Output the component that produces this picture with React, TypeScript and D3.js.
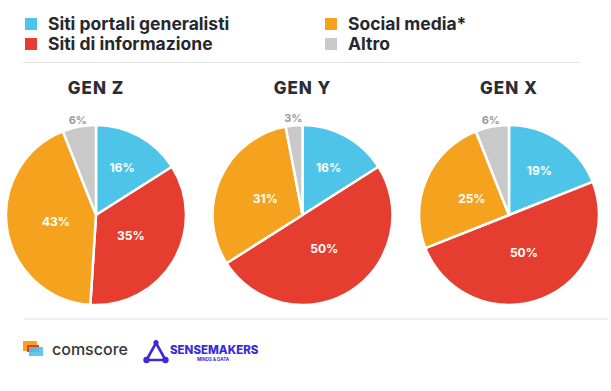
import React from "react";
import * as d3 from "d3";

// legend categories, in slice order (clockwise from 12 o'clock)
const categories = ["Siti portali generalisti", "Siti di informazione", "Social media*", "Altro"];
const generations = ["GEN Z", "GEN Y", "GEN X"];
const genZ = [16, 35, 43, 6];
const genY = [16, 50, 31, 3];
const genX = [19, 50, 25, 6];
const seriesValues = [genZ, genY, genX];

const colors = ["#4FC4E9", "#E53E30", "#F5A31F", "#C9C9C9"];
const FONT = "Inter, 'Open Sans', sans-serif";

const width = 611;
const height = 391;
const radius = 90;

export default function App() {
    const color = d3.scaleOrdinal<string, string>().domain(categories).range(colors);
    const cx = d3.scalePoint<string>().domain(generations).range([96, 509]);

    const pie = d3.pie<number>().sort(null).value(d => d);
    const arc = d3.arc<d3.PieArcDatum<number>>().innerRadius(0).outerRadius(radius);
    const labelArc = (r: number) => d3.arc<d3.PieArcDatum<number>>().innerRadius(r).outerRadius(r);

    return (
        <div style={{ position: "fixed", left: 0, top: 0 }}>
            <svg width={width} height={height} style={{ display: "block", background: "#fff" }}>
                {/* legend */}
                {categories.map((c, i) => {
                    const col = Math.floor(i / 2);
                    const row = i % 2;
                    const x = col === 0 ? 25 : 325;
                    const y = 18 + row * 20;
                    return (
                        <g key={c}>
                            <rect x={x} y={y} width={12} height={12} fill={color(c)} />
                            <text x={x + 23} y={y + 11.5} fontFamily={FONT} fontWeight={700}
                                fontSize={17.5} fill="#26282e">{c}</text>
                        </g>
                    );
                })}
                <line x1={23} x2={580} y1={62.5} y2={62.5} stroke="#e2e2e2" strokeWidth={1.2} />

                {/* pies */}
                {generations.map((g, gi) => {
                    const arcs = pie(seriesValues[gi]);
                    const x = cx(g) as number;
                    const y = 215;
                    return (
                        <g key={g}>
                            <text x={x} y={94} textAnchor="middle" fontFamily={FONT} fontWeight={800}
                                fontSize={17} letterSpacing={1} fill="#2a2d34">{g}</text>
                            <g transform={`translate(${x},${y})`}>
                                {arcs.map((a, i) => (
                                    <path key={i} d={arc(a) || ""} fill={colors[i]}
                                        stroke="#fff" strokeWidth={2.5} strokeLinejoin="round" />
                                ))}
                                {arcs.map((a, i) => {
                                    const outside = i === 3;
                                    const r = outside ? radius + 7 : i === 0 ? radius * 0.6 : radius * 0.45;
                                    const [lx, ly] = labelArc(r).centroid(a);
                                    return (
                                        <text key={"l" + i} x={lx} y={ly} dy="0.35em" textAnchor="middle"
                                            fontFamily={FONT} fontWeight={700} fontSize={outside ? 11 : 12}
                                            fill={outside ? "#9b9b9b" : "#fff"}>{a.data}%</text>
                                    );
                                })}
                            </g>
                        </g>
                    );
                })}

                <line x1={24} x2={608} y1={319} y2={319} stroke="#e2e2e2" strokeWidth={1.2} />

                {/* comscore logo */}
                <g>
                    <rect x={23} y={341} width={14} height={10} fill="#F5A31F" />
                    <rect x={27} y={345} width={12} height={7} fill="#E53E30" />
                    <rect x={29} y={347} width={14} height={9} fill="#4FC4E9" opacity={0.9} />
                    <text x={52} y={354.5} fontFamily={FONT} fontSize={16} fontWeight={500} fill="#34363b">comscore</text>
                </g>

                {/* sensemakers logo */}
                <g>
                    <path d="M156,343 L146.5,360 L165.5,360 Z" fill="none" stroke="#3b2bd9" strokeWidth={2.6} strokeLinejoin="round" />
                    <circle cx={156} cy={342.5} r={2.6} fill="#3b2bd9" />
                    <circle cx={146.5} cy={360} r={3.2} fill="#3b2bd9" />
                    <circle cx={165.5} cy={360} r={3.2} fill="#3b2bd9" />
                    <text x={170} y={353.5} fontFamily={FONT} fontSize={11.5} fontWeight={800} fill="#3b2bd9">SENSEMAKERS</text>
                    <text x={213} y={361} textAnchor="middle" fontFamily={FONT} fontSize={4.5} fontWeight={700} fill="#3b2bd9">MINDS &amp; DATA</text>
                </g>
            </svg>
        </div>
    );
}
